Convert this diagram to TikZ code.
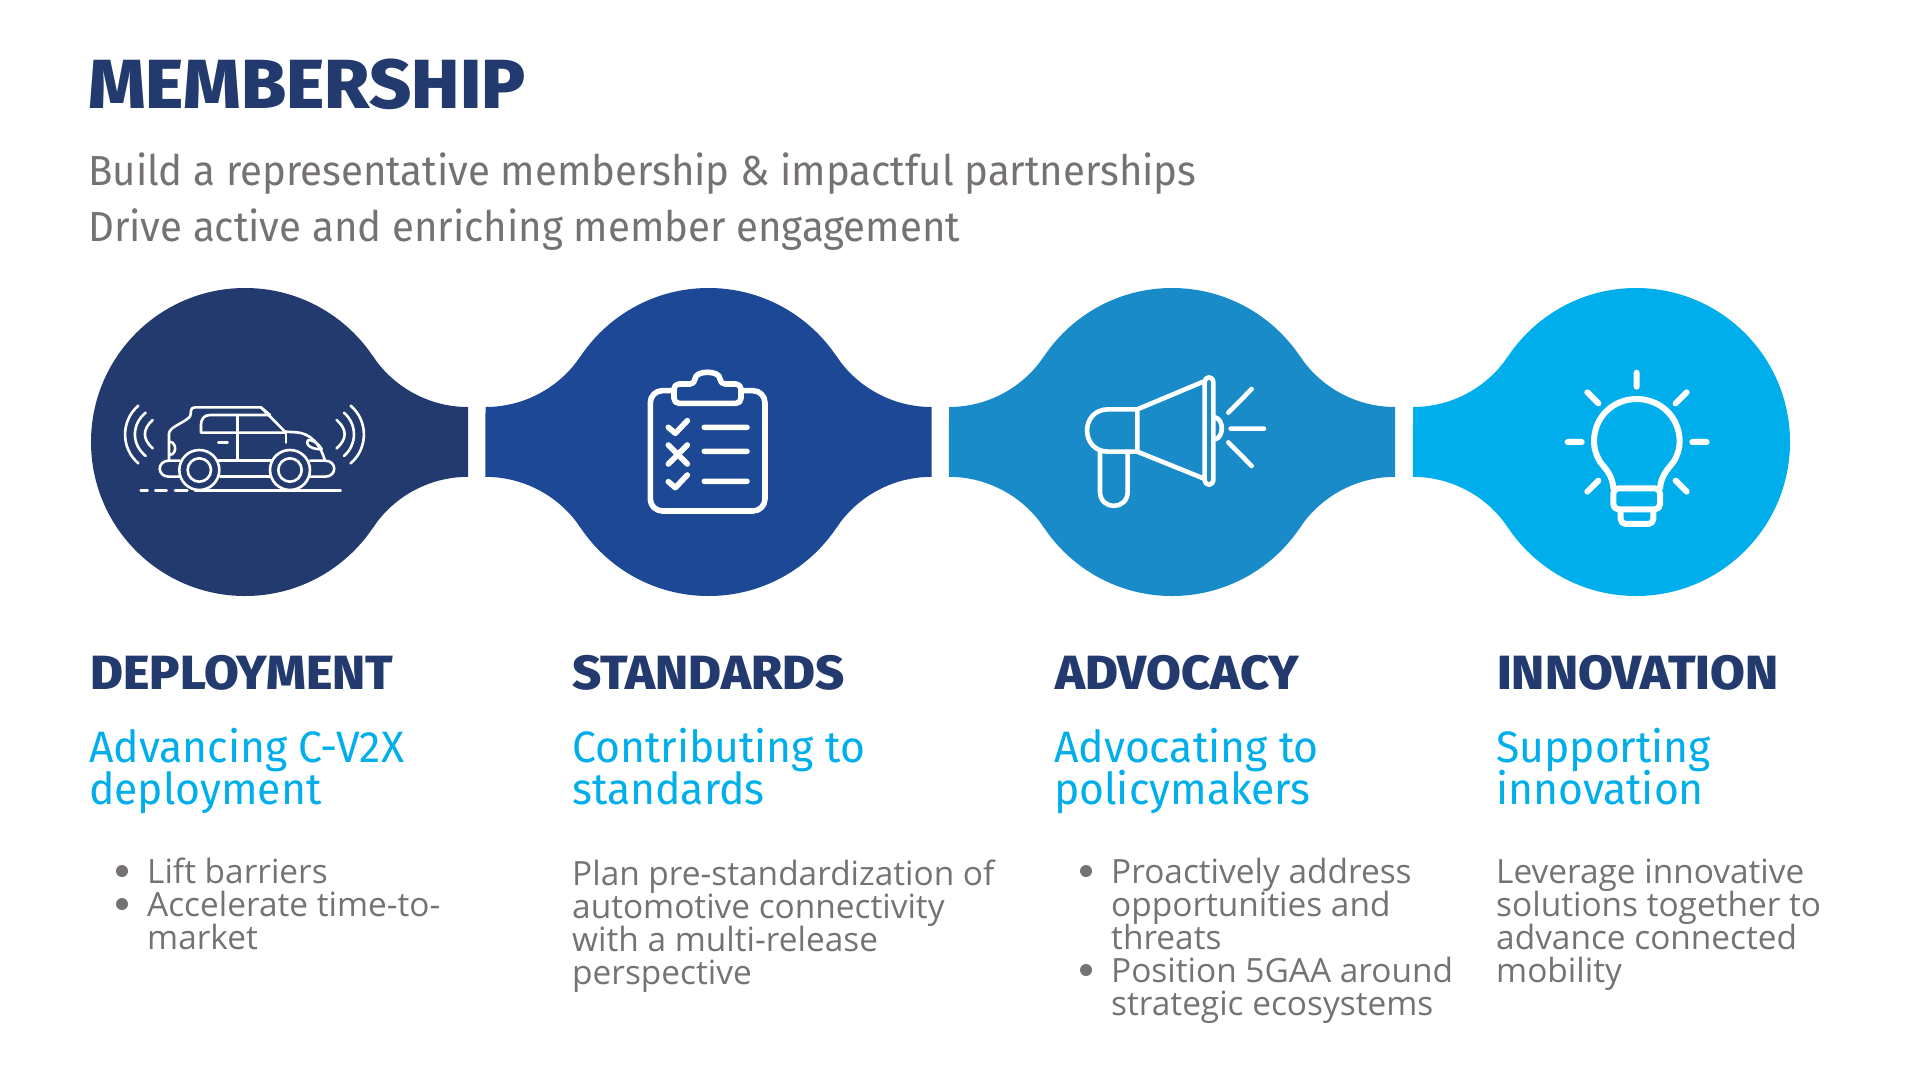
\documentclass[tikz,border=0pt]{standalone}
\usepackage{fontspec}
\setmainfont{Open Sans}
\newfontfamily\titlefont[FakeStretch=1.05]{Fira Sans ExtraBold}
\newfontfamily\leadfont[FakeStretch=.957]{Fira Sans}
\newfontfamily\subfont[FakeStretch=.97]{Fira Sans}
\newcommand{\subsize}{\fontsize{44}{41.5}\selectfont\lineskiplimit=-30pt\relax}
\newcommand{\bodysize}{\fontsize{33.4}{33}\selectfont\lineskiplimit=-30pt\relax}

\definecolor{navy}{HTML}{233A6E}
\definecolor{royal}{HTML}{1C4896}
\definecolor{ocean}{HTML}{1A8BC9}
\definecolor{sky}{HTML}{00AEEB}
\definecolor{slate}{HTML}{767272}

\tikzset{
	neck/.pic={
		\fill (223,-35) arc[start angle=270,end angle=213.8,radius=114.4pt]
			-- (128,85.6) arc[start angle=146.2,end angle=90,radius=114.4pt] -- cycle;
	},
	maintitle/.style={anchor=base west,inner sep=0pt,text=navy,font=\titlefont\fontsize{69.5}{70}\selectfont},
	leadline/.style={anchor=base west,inner sep=0pt,text=slate,font=\leadfont\fontsize{42}{56}\selectfont},
	colhead/.style={anchor=base west,inner sep=0pt,text=navy,font=\titlefont\fontsize{48}{48}\selectfont},
	colsub/.style={anchor=base west,inner sep=0pt,align=left,text=sky,font=\subfont\subsize},
	colbody/.style={anchor=base west,inner sep=0pt,align=left,text=slate,font=\bodysize},
	dot/.style={circle,fill=slate,inner sep=0pt,minimum size=12pt},
	icon/.style={draw=white,line cap=round,line join=round},
}

\begin{document}
\begin{tikzpicture}[x=1pt,y=-1pt]
	\useasboundingbox (0,0) rectangle (1920,1080);

	\node[maintitle] (title) at (88,108) {MEMBERSHIP};
	\node[leadline] (leadone) at (88,185) {Build a representative membership \& impactful partnerships};
	\node[leadline] (leadtwo) at (88,241) {Drive active and enriching member engagement};

	% lobes
	\fill[navy] (245,442) circle[radius=154pt];
	\pic[fill=navy] at (245,442) {neck};
	\fill[royal] (708.5,442) circle[radius=154pt];
	\pic[fill=royal] at (708.5,442) {neck};
	\pic[fill=royal,xscale=-1] at (708.5,442) {neck};
	\fill[ocean] (1172,442) circle[radius=154pt];
	\pic[fill=ocean] at (1172,442) {neck};
	\pic[fill=ocean,xscale=-1] at (1172,442) {neck};
	\fill[sky] (1636,442) circle[radius=154pt];
	\pic[fill=sky,xscale=-1] at (1636,442) {neck};

	% car
	\begin{scope}[shift={(100,390)},x=.3333pt,y=-.3333pt,icon,line width=2.6pt]
		\draw (122,301) -- (143,301) (166,301) -- (200,301) (225,301) -- (262,301) (285,301) -- (722,301);
		\draw (298,240) circle[radius=20pt] (298,240) circle[radius=11.7pt];
		\draw (570,240) circle[radius=20pt] (570,240) circle[radius=11.7pt];
		\draw (240,212) -- (207,212) .. controls (170,212) and (170,260) .. (207,260) -- (240,260);
		\draw (355,212) -- (515,212) (360,260) -- (510,260);
		\draw (630,212) -- (675,212) .. controls (712,212) and (712,260) .. (675,260) -- (630,260);
		\draw (207,212) -- (207,130) .. controls (210,110) and (250,100) .. (270,80)
			.. controls (275,70) and (268,52) .. (285,52) -- (483,52) -- (555,125) -- (590,127)
			.. controls (630,130) and (660,160) .. (675,212);
		\draw (483,52) -- (510,75) -- (330,75) .. controls (310,75) and (303,90) .. (303,105)
			-- (303,128) -- (555,128);
		\draw (412,75) -- (412,212) (558,128) -- (558,158) (355,157) -- (383,157);
		\draw (207,155) -- (218,158) .. controls (230,170) and (226,185) .. (218,192) -- (207,195);
		\draw (625,150) .. controls (612,165) and (640,180) .. (665,177) .. controls (655,160) and (640,150) .. (625,150);
		\draw (115,47) .. controls (62,92) and (62,175) .. (115,220)
			(137,68) .. controls (94,103) and (94,163) .. (137,198)
			(158,90) .. controls (127,118) and (127,147) .. (158,175);
		\draw (752,47) .. controls (805,92) and (805,175) .. (752,220)
			(732,68) .. controls (772,103) and (772,163) .. (732,198)
			(710,90) .. controls (742,118) and (742,147) .. (710,175);
	\end{scope}

	% clipboard
	\begin{scope}[shift={(600,340)},x=.3333pt,y=-.3333pt,icon,line width=5.6pt]
		\draw[rounded corners=12pt] (222,152) -- (151,152) -- (151,513) -- (495,513) -- (495,152) -- (423,152);
		\draw[rounded corners=5pt] (222,132) -- (285,132) .. controls (285,90) and (360,90) .. (360,132) -- (423,132)
			-- (423,190) -- (222,190) -- cycle;
		\draw (205,262) -- (226,280) -- (262,242) (313,262) -- (441,262);
		\draw (205,315) -- (262,372) (262,315) -- (205,372) (313,334) -- (441,334);
		\draw (205,425) -- (226,443) -- (262,405) (313,424) -- (441,424);
	\end{scope}

	% megaphone
	\begin{scope}[shift={(1060,340)},x=.3333pt,y=-.3333pt,icon,line width=4.6pt]
		\draw[rounded corners=4.3pt] (434,112) rectangle (460,434);
		\draw (430,125) -- (232,208) -- (232,335) -- (430,415);
		\draw (232,208) -- (145,208) .. controls (60,208) and (60,335) .. (145,335) -- (232,335);
		\draw (120,335) -- (120,455) .. controls (120,512) and (203,512) .. (203,455) -- (203,335);
		\draw (466,232) .. controls (492,240) and (492,290) .. (466,298);
		\draw (505,218) -- (575,147) (512,266) -- (612,266) (505,307) -- (575,378);
	\end{scope}

	% bulb
	\begin{scope}[shift={(1530,340)},x=.3333pt,y=-.3333pt,icon,line width=6pt]
		\draw (320,98) -- (320,140) (172,157) -- (205,190) (470,157) -- (437,190);
		\draw (113,306) -- (155,306) (487,306) -- (530,306) (205,422) -- (172,455) (437,422) -- (470,455);
		\draw (250,445) .. controls (248,405) and (225,385) .. (210,365) .. controls (198,345) and (192,325) .. (192,305)
			.. controls (192,230) and (250,177) .. (320,177) .. controls (390,177) and (449,230) .. (449,305)
			.. controls (449,325) and (443,345) .. (431,365) .. controls (416,385) and (393,405) .. (390,445);
		\draw[rounded corners=5pt] (250,445) -- (250,508) -- (390,508) -- (390,445) -- cycle;
		\draw[rounded corners=5pt] (272,510) -- (272,552) -- (370,552) -- (370,510);
	\end{scope}

	% columns
	\node[colhead] (deployhead) at (90,689) {DEPLOYMENT};
	\node[colsub] (deploysub) at (89,804) {Advancing C-V2X\\deployment};
	\node[dot] (deploydota) at (122,871) {};
	\node[dot] (deploydotb) at (122,904) {};
	\node[colbody] (deploybody) at (147,949) {Lift barriers\\Accelerate time-to-\\market};

	\node[colhead] (standhead) at (572,689) {STANDARDS};
	\node[colsub] (standsub) at (572,804) {Contributing to\\standards};
	\node[colbody] (standbody) at (572,984) {Plan pre-standardization of\\automotive connectivity\\with a multi-release\\perspective};

	\node[colhead] (advochead) at (1055,689) {ADVOCACY};
	\node[colsub] (advocsub) at (1054,804) {Advocating to\\policymakers};
	\node[dot] (advocdota) at (1086,871) {};
	\node[dot] (advocdotb) at (1086,970) {};
	\node[colbody] (advocbody) at (1111,1015) {Proactively address\\opportunities and\\threats\\Position 5GAA around\\strategic ecosystems};

	\node[colhead] (innovhead) at (1497,689) {INNOVATION};
	\node[colsub] (innovsub) at (1496,804) {Supporting\\innovation};
	\node[colbody] (innovbody) at (1496,982) {Leverage innovative\\solutions together to\\advance connected\\mobility};
\end{tikzpicture}
\end{document}
